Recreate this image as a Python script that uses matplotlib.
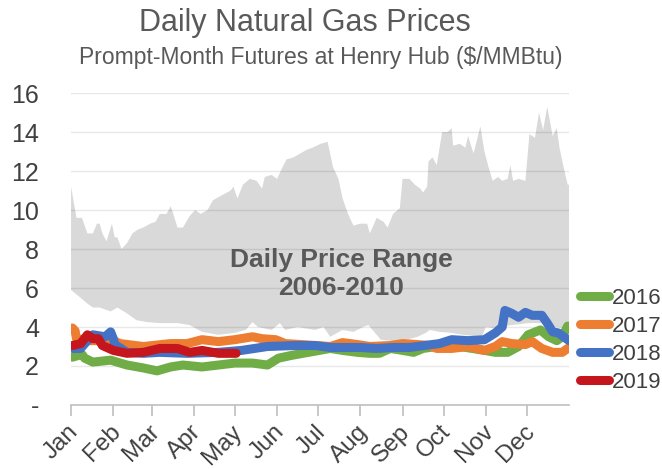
import matplotlib
matplotlib.use("Agg")
import matplotlib.pyplot as plt
import matplotlib.transforms as mtransforms
import numpy as np

plt.rcParams["font.family"] = ["Liberation Sans", "DejaVu Sans"]

# month starts (day of year) and labels
month_days = [0, 31, 59, 90, 120, 151, 181, 212, 243, 273, 304, 334]
month_labels = ["Jan", "Feb", "Mar", "Apr", "May", "Jun",
                "Jul", "Aug", "Sep", "Oct", "Nov", "Dec"]
y_ticks = [0, 2, 4, 6, 8, 10, 12, 14, 16]
y_labels = ["-", "2", "4", "6", "8", "10", "12", "14", "16"]

# 2006-2010 daily range: upper edge
range_hi_days = [0, 4, 8, 12, 16, 19, 21, 23, 26, 30, 32, 34, 37, 41, 45, 49, 53,
                 58, 62, 65, 70, 73, 75, 78, 82, 87, 91, 95, 100, 104, 109, 117,
                 119, 122, 126, 131, 136, 140, 142, 147, 151, 155, 158, 163, 168,
                 173, 177, 183, 188, 189, 192, 196, 199, 203, 207, 212, 217, 219,
                 224, 229, 232, 236, 241, 243, 248, 252, 256, 258, 261, 262, 265,
                 268, 272, 276, 279, 280, 285, 289, 291, 295, 300, 303, 306, 309,
                 313, 316, 320, 322, 324, 328, 333, 336, 340, 343, 346, 349, 353,
                 356, 358, 361, 364, 365]
range_hi = [11.2, 9.6, 9.6, 8.8, 8.8, 9.3, 9.3, 8.8, 8.4, 9.3, 8.6, 8.6, 8.0, 8.3,
            8.8, 9.0, 9.1, 9.3, 9.4, 9.8, 9.8, 10.2, 9.8, 9.1, 9.1, 9.7, 10.0, 9.8,
            10.0, 10.5, 10.7, 11.0, 11.2, 10.6, 11.3, 11.6, 11.5, 11.1, 11.7, 11.8,
            11.6, 12.2, 12.6, 12.7, 12.9, 13.1, 13.2, 13.4, 13.5, 13.2, 12.2, 11.6,
            10.6, 9.8, 9.2, 9.3, 9.3, 8.8, 9.6, 9.4, 9.1, 9.8, 10.1, 11.6, 11.6,
            11.3, 11.1, 10.9, 11.2, 12.5, 12.7, 12.3, 14.0, 14.0, 14.2, 13.3, 13.4,
            13.2, 13.8, 12.9, 14.3, 13.0, 12.2, 11.5, 11.7, 11.5, 11.6, 12.3, 11.5,
            11.6, 11.5, 13.9, 13.7, 15.0, 14.1, 15.3, 13.8, 14.2, 13.2, 12.2, 11.3,
            11.3]

# 2006-2010 daily range: lower edge
range_lo_days = [0, 7, 12, 16, 21, 29, 34, 41, 48, 56, 65, 78, 87, 96, 108, 120,
                 128, 133, 137, 147, 153, 157, 166, 179, 185, 190, 199, 207, 214,
                 218, 221, 227, 239, 246, 254, 260, 263, 270, 279, 287, 301, 304,
                 309, 323, 335, 347, 355, 362, 365]
range_lo = [5.9, 5.5, 5.2, 5.0, 5.0, 4.8, 5.0, 4.7, 4.35, 4.25, 4.2, 4.2, 4.1,
            3.75, 3.6, 3.7, 3.85, 4.25, 4.0, 3.85, 4.2, 3.85, 4.0, 3.85, 4.0, 3.5,
            3.85, 3.75, 4.0, 4.1, 3.85, 3.35, 3.25, 3.35, 3.5, 3.7, 3.85, 3.75,
            3.7, 3.6, 3.5, 4.0, 3.95, 4.1, 4.2, 4.2, 4.0, 3.95, 3.95]

days_2016 = [1, 8, 10, 16, 29, 41, 53, 63, 73, 82, 96, 108, 120, 133, 144, 152,
             162, 174, 190, 199, 210, 219, 226, 234, 243, 251, 258, 268, 285, 303,
             311, 320, 328, 335, 344, 350, 356, 360, 364]
price_2016 = [2.45, 2.6, 2.4, 2.2, 2.3, 2.05, 1.9, 1.75, 1.95, 2.05, 1.95, 2.05,
              2.15, 2.15, 2.05, 2.4, 2.55, 2.7, 2.9, 2.8, 2.7, 2.65, 2.65, 2.9,
              2.8, 2.7, 2.9, 3.0, 3.0, 2.8, 2.7, 2.7, 3.0, 3.6, 3.85, 3.5, 3.3,
              3.5, 4.05]

days_2017 = [1, 3, 4, 14, 31, 36, 53, 73, 85, 96, 108, 120, 133, 140, 150, 157,
             169, 190, 199, 210, 219, 234, 243, 254, 263, 268, 279, 291, 303, 311,
             316, 323, 333, 338, 345, 353, 360, 364]
price_2017 = [3.95, 3.8, 3.4, 3.3, 3.3, 3.15, 3.0, 3.15, 3.15, 3.35, 3.25, 3.35,
              3.5, 3.4, 3.35, 3.15, 3.1, 3.0, 3.2, 3.1, 3.0, 3.05, 3.15, 3.1, 3.05,
              2.9, 2.9, 3.0, 2.8, 3.0, 3.25, 3.15, 3.1, 3.25, 2.9, 2.7, 2.7, 2.9]

days_2018 = [1, 7, 12, 16, 25, 29, 31, 32, 41, 53, 65, 85, 108, 125, 144, 164,
             179, 190, 199, 212, 224, 236, 248, 259, 270, 279, 291, 303, 311, 316,
             318, 323, 328, 333, 338, 345, 349, 353, 357, 362, 365]
price_2018 = [2.9, 2.9, 3.3, 3.6, 3.5, 3.75, 3.4, 3.1, 2.7, 2.65, 2.7, 2.65, 2.7,
              2.8, 3.0, 3.05, 3.05, 2.95, 2.95, 2.95, 2.9, 2.95, 2.95, 3.05, 3.15,
              3.35, 3.3, 3.35, 3.7, 4.0, 4.85, 4.7, 4.5, 4.75, 4.6, 4.6, 4.2, 3.75,
              3.7, 3.45, 3.3]

days_2019 = [1, 7, 12, 16, 20, 23, 31, 41, 53, 65, 78, 87, 96, 108, 121]
price_2019 = [3.05, 3.15, 3.6, 3.4, 3.4, 3.05, 2.8, 2.65, 2.7, 2.9, 2.9, 2.7, 2.8,
              2.65, 2.65]

series = [
    ("2016", days_2016, price_2016, "#70ad47"),
    ("2017", days_2017, price_2017, "#ed7d31"),
    ("2018", days_2018, price_2018, "#4472c4"),
    ("2019", days_2019, price_2019, "#c5161d"),
]

text_grey = "#595959"

fig = plt.figure(figsize=(6.62, 4.69), dpi=100)
ax = fig.add_axes([0.1073, 0.1365, 0.7523, 0.665])

# shaded historical range
poly_x = np.concatenate([range_hi_days, range_lo_days[::-1]])
poly_y = np.concatenate([range_hi, range_lo[::-1]])
ax.fill(poly_x, poly_y, color="#d9d9d9", linewidth=0, zorder=1)

for y in y_ticks[1:]:
    ax.axhline(y, color="black", alpha=0.09, linewidth=1, zorder=2)

for label, days, prices, color in series:
    ax.plot(days, prices, color=color, linewidth=6.5, solid_capstyle="round",
            solid_joinstyle="round", label=label, zorder=3)

ax.text(198, 6.7, "Daily Price Range\n2006-2010", ha="center", va="center",
        fontsize=19, fontweight="bold", color=text_grey, linespacing=1.2,
        zorder=4)

ax.set_xlim(0, 365)
ax.set_ylim(0, 16)

for side in ["top", "right", "left"]:
    ax.spines[side].set_visible(False)
ax.spines["bottom"].set_color("#bfbfbf")
ax.spines["bottom"].set_linewidth(1.2)

ax.set_yticks(y_ticks)
ax.set_yticklabels(y_labels, fontsize=18, color="#404040")
ax.tick_params(axis="y", length=0, pad=23)

ax.set_xticks(month_days)
ax.set_xticklabels(month_labels, fontsize=17.5, color="#404040")
ax.tick_params(axis="x", length=8, width=1.2, color="#bfbfbf", pad=9)
offset = mtransforms.ScaledTranslation(3 / 72, 0, fig.dpi_scale_trans)
for tick_label in ax.get_xticklabels():
    tick_label.set_rotation(45)
    tick_label.set_ha("right")
    tick_label.set_va("center")
    tick_label.set_rotation_mode("anchor")
    tick_label.set_transform(tick_label.get_transform() + offset)

legend = ax.legend(loc="upper left", bbox_to_anchor=(1.005, 0.405), frameon=False,
                   fontsize=16, handlelength=1.3, handletextpad=0.1,
                   labelspacing=0.32, borderaxespad=0)
for text in legend.get_texts():
    text.set_color("#404040")

fig.text(0.46, 0.95, "Daily Natural Gas Prices", ha="center", va="center",
         fontsize=22, color=text_grey)
fig.text(0.485, 0.877, "Prompt-Month Futures at Henry Hub ($/MMBtu)",
         ha="center", va="center", fontsize=16.5, color=text_grey)

fig.savefig("out.png", dpi=100)
plt.close(fig)
